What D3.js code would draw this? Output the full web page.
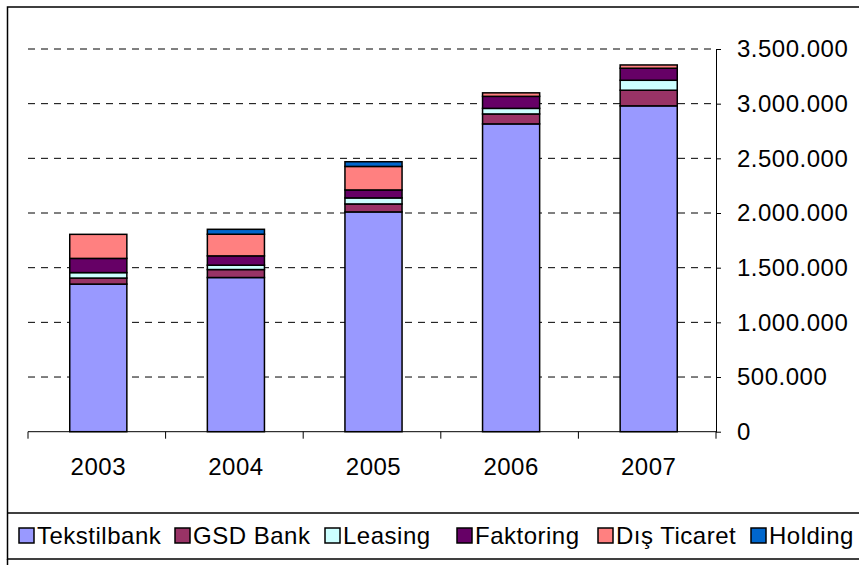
<!DOCTYPE html>
<html>
<head>
<meta charset="utf-8">
<script src="https://cdn.jsdelivr.net/npm/d3@7"></script>
<style>
  body { margin: 0; background: #fff; }
  text { font-family: "Liberation Sans", Arial, sans-serif; fill: #000; letter-spacing: 0.5px; }
</style>
</head>
<body>
<div id="graph"></div>
<script>
// data
var years = ['2003', '2004', '2005', '2006', '2007'];
var seriesNames = ['Tekstilbank', 'GSD Bank', 'Leasing', 'Faktoring', 'Dış Ticaret', 'Holding'];
var tekstilbank = [1350000, 1410000, 2010000, 2815000, 2980000];
var gsdBank     = [55000, 73000, 73000, 91000, 143000];
var leasing     = [50000, 40000, 55000, 51000, 91000];
var faktoring   = [130000, 85000, 73000, 110000, 110000];
var disTicaret  = [220000, 198000, 215000, 32000, 30000];
var holding     = [0, 45000, 43000, 0, 0];
var yTicks = [0, 500000, 1000000, 1500000, 2000000, 2500000, 3000000, 3500000];

var colors = ['#9999FF', '#993366', '#CCFFFF', '#660066', '#FF8080', '#0066CC'];

var width = 859, height = 565;

var rows = years.map(function(y, i) {
  return {year: y, 'Tekstilbank': tekstilbank[i], 'GSD Bank': gsdBank[i], 'Leasing': leasing[i],
          'Faktoring': faktoring[i], 'Dış Ticaret': disTicaret[i], 'Holding': holding[i]};
});

var stack = d3.stack().keys(seriesNames)(rows);

var x = d3.scaleBand()
          .domain(years)
          .range([28, 716])
          .padding(0);

var y = d3.scaleLinear()
          .domain([0, 3500000])
          .range([431.7, 49]);

var fmt = d3.formatLocale({decimal: ',', thousands: '.', grouping: [3], currency: ['', '']}).format(',');

var svg = d3.select('#graph')
            .append('svg')
            .attr('width', width)
            .attr('height', height);

// frame + legend box lines
svg.append('rect')
   .attr('x', 7.5).attr('y', 7)
   .attr('width', 900).attr('height', 552)
   .attr('fill', 'none').attr('stroke', '#000').attr('stroke-width', 1.5);
svg.append('line')
   .attr('x1', 7.5).attr('x2', 900).attr('y1', 513).attr('y2', 513)
   .attr('stroke', '#000').attr('stroke-width', 1.5);
svg.append('line')
   .attr('x1', 7.5).attr('x2', 7.5).attr('y1', 559).attr('y2', 565)
   .attr('stroke', '#000').attr('stroke-width', 1.5);

// dashed gridlines
svg.append('g')
   .selectAll('line')
   .data(yTicks.filter(function(d) { return d > 0; }))
   .enter()
   .append('line')
   .attr('x1', 28).attr('x2', 716)
   .attr('y1', function(d) { return y(d); })
   .attr('y2', function(d) { return y(d); })
   .attr('stroke', '#000')
   .attr('stroke-width', 1)
   .attr('stroke-dasharray', '7,6');

// bars
var barW = x.bandwidth() * 0.415;
svg.append('g')
   .selectAll('g')
   .data(stack)
   .enter()
   .append('g')
   .attr('fill', function(d, i) { return colors[i]; })
   .selectAll('rect')
   .data(function(d) { return d.filter(function(s) { return s[1] - s[0] > 0; }); })
   .enter()
   .append('rect')
   .attr('x', function(d) { return x(d.data.year) + (x.bandwidth() - barW) / 2 + 1.5; })
   .attr('width', barW)
   .attr('y', function(d) { return y(d[1]); })
   .attr('height', function(d) { return y(d[0]) - y(d[1]); })
   .attr('stroke', '#000')
   .attr('stroke-width', 1.5);

// x axis: line, ticks at category boundaries, labels at centres
var xg = svg.append('g');
xg.append('line')
  .attr('x1', 28).attr('x2', 716)
  .attr('y1', y(0)).attr('y2', y(0))
  .attr('stroke', '#000').attr('stroke-width', 1);
xg.selectAll('line.tick')
  .data(years.map(function(d) { return x(d); }).concat([x.range()[1]]))
  .enter()
  .append('line')
  .attr('class', 'tick')
  .attr('x1', function(d) { return d; }).attr('x2', function(d) { return d; })
  .attr('y1', y(0)).attr('y2', y(0) + 7)
  .attr('stroke', '#000').attr('stroke-width', 1);
xg.selectAll('text')
  .data(years)
  .enter()
  .append('text')
  .attr('x', function(d) { return x(d) + x.bandwidth() / 2 + 1.5; })
  .attr('y', 475)
  .attr('text-anchor', 'middle')
  .attr('font-size', 24)
  .text(function(d) { return d; });

// y axis on the right
var yAxis = d3.axisRight(y)
              .tickValues(yTicks)
              .tickFormat(fmt)
              .tickSize(5)
              .tickSizeOuter(0)
              .tickPadding(16);

var yg = svg.append('g')
            .attr('transform', 'translate(716,0)')
            .call(yAxis);
yg.select('.domain').attr('stroke', '#000');
yg.selectAll('.tick line').attr('stroke', '#000');
yg.selectAll('.tick text')
  .attr('font-size', 24)
  .attr('font-family', '"Liberation Sans", Arial, sans-serif')
  .attr('fill', '#000');

// legend
var legendX = [19, 175, 325, 457, 598, 751];
var legend = svg.append('g')
                .selectAll('g')
                .data(seriesNames)
                .enter()
                .append('g')
                .attr('transform', function(d, i) { return 'translate(' + legendX[i] + ',0)'; });
legend.append('rect')
      .attr('x', 0).attr('y', 528)
      .attr('width', 15).attr('height', 15)
      .attr('fill', function(d, i) { return colors[i]; })
      .attr('stroke', '#000').attr('stroke-width', 1.5);
legend.append('text')
      .attr('x', 18).attr('y', 544)
      .attr('font-size', 24)
      .text(function(d) { return d; });
</script>
</body>
</html>
